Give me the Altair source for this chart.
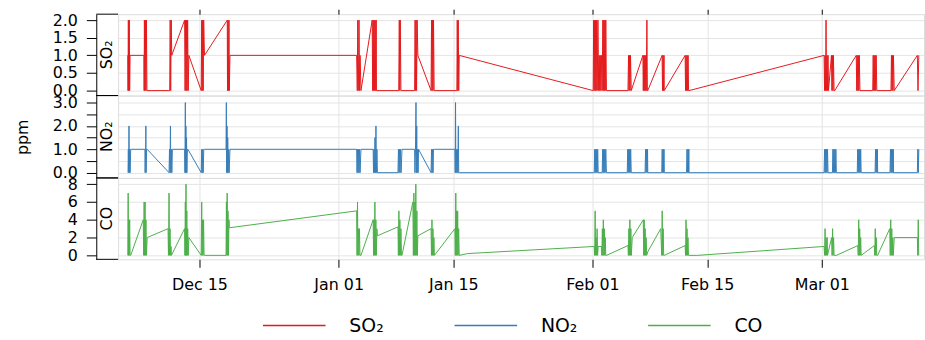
import altair as alt
import pandas as pd

# ---------------- data (days since 2014-12-01, ppm) ----------------
BASE = pd.Timestamp("2014-12-01")
names = ["SO₂", "NO₂", "CO"]
colors = ["#E41A1C", "#377EB8", "#4DAF4A"]
tick_dates = ["2014-12-15", "2015-01-01", "2015-01-15", "2015-02-01", "2015-02-15", "2015-03-01"]

so2 = [
    (5.24, 1), (5.27, 0), (5.31, 2), (5.35, 0), (5.39, 1.5), (5.43, 2), (5.47, 0), (5.52, 1),
    (7.21, 1), (7.24, 0), (7.27, 2), (7.33, 0), (7.39, 2), (7.45, 0), (7.52, 2), (7.58, 0),
    (10.36, 0), (10.42, 2), (10.48, 0), (10.55, 2), (10.61, 1),
    (12.18, 2), (12.24, 0), (12.30, 2), (12.36, 0), (12.42, 2), (12.48, 0), (12.55, 2), (12.62, 0), (12.70, 1),
    (14.21, 0), (14.27, 2), (14.33, 0), (14.39, 2), (14.45, 0), (14.51, 2), (14.61, 1),
    (17.39, 2), (17.42, 0), (17.48, 2), (17.54, 0), (17.60, 2), (17.64, 0), (17.72, 1),
    (33.19, 1), (33.27, 0), (33.33, 2), (33.39, 0), (33.45, 1), (33.48, 2), (33.55, 0), (33.61, 1), (33.72, 0),
    (35.09, 2), (35.15, 0), (35.21, 2), (35.27, 0), (35.33, 2), (35.39, 0), (35.45, 2), (35.52, 0), (35.58, 2), (35.61, 0),
    (38.33, 0), (38.40, 2), (38.46, 0), (38.52, 2), (38.60, 0),
    (40.27, 0), (40.33, 2), (40.39, 0), (40.45, 2), (40.51, 0), (40.58, 2), (40.67, 1),
    (42.28, 0), (42.34, 2), (42.40, 0), (42.46, 2), (42.52, 0), (42.58, 2), (42.66, 0),
    (45.43, 0), (45.48, 2), (45.54, 0), (45.60, 2), (45.66, 0), (45.72, 1),
    (62.08, 0), (62.14, 2), (62.20, 0), (62.26, 2), (62.32, 0), (62.38, 2), (62.44, 0), (62.50, 2), (62.57, 0),
    (62.66, 2), (62.75, 0), (62.82, 1), (62.88, 0), (62.95, 1), (63.02, 0), (63.10, 1), (63.18, 0),
    (63.26, 2), (63.32, 0), (63.38, 2), (63.44, 0), (63.50, 2), (63.56, 0), (63.62, 2), (63.70, 0),
    (66.33, 0), (66.40, 1), (66.46, 0), (66.52, 1), (66.58, 0), (66.64, 1), (66.73, 0),
    (68.15, 1), (68.20, 0), (68.26, 1), (68.32, 0), (68.38, 1), (68.44, 0), (68.50, 1), (68.56, 0), (68.64, 2), (68.70, 0), (68.75, 0),
    (70.50, 1), (70.55, 0), (70.61, 1), (70.67, 0), (70.73, 1), (70.76, 0),
    (73.31, 1), (73.36, 0), (73.42, 1), (73.48, 0), (73.55, 1), (73.61, 0), (73.67, 1), (73.73, 0), (73.79, 0),
    (90.28, 1), (90.34, 0), (90.40, 1), (90.46, 0), (90.52, 2), (90.58, 0), (90.64, 1), (90.70, 0), (90.76, 1), (90.82, 0),
    (91.18, 1), (91.24, 0), (91.30, 1), (91.36, 0), (91.42, 1), (91.50, 0), (91.58, 0),
    (94.21, 1), (94.27, 0), (94.33, 1), (94.40, 0), (94.46, 1), (94.52, 0), (94.58, 1), (94.66, 0),
    (96.22, 0), (96.28, 1), (96.34, 0), (96.40, 1), (96.46, 0), (96.52, 1), (96.58, 0), (96.64, 1), (96.72, 0),
    (98.45, 0), (98.51, 1), (98.57, 0), (98.63, 1), (98.69, 0), (98.75, 1), (98.85, 0),
    (101.67, 1), (101.75, 0), (101.85, 1),
]

no2 = [
    (5.27, 0), (5.31, 1), (5.35, 0), (5.39, 2), (5.43, 0), (5.47, 1), (5.52, 0), (5.60, 1),
    (7.33, 1), (7.36, 0), (7.42, 1), (7.45, 2), (7.48, 0), (7.54, 1), (7.61, 1),
    (10.28, 0), (10.34, 1), (10.40, 0), (10.45, 2), (10.50, 0), (10.56, 1), (10.62, 0), (10.69, 1),
    (12.18, 1), (12.22, 0), (12.27, 3), (12.30, 0), (12.34, 2), (12.38, 0), (12.42, 1.5), (12.46, 0), (12.52, 1), (12.58, 1),
    (14.21, 0), (14.27, 1), (14.33, 0), (14.39, 1), (14.45, 0), (14.52, 1), (14.61, 1),
    (17.24, 1), (17.28, 3), (17.32, 0), (17.36, 2), (17.40, 0), (17.45, 1.5), (17.50, 0), (17.56, 1), (17.62, 0), (17.72, 1),
    (33.19, 1), (33.24, 0), (33.30, 1), (33.36, 0), (33.42, 1), (33.48, 0), (33.55, 1), (33.61, 0), (33.72, 1),
    (35.21, 1), (35.25, 0), (35.31, 1), (35.37, 0), (35.43, 1.5), (35.49, 0), (35.55, 2), (35.61, 0), (35.67, 1), (35.73, 0),
    (38.24, 0), (38.30, 1), (38.36, 0), (38.42, 1), (38.48, 0), (38.55, 1), (38.62, 0), (38.73, 1),
    (40.27, 1), (40.31, 0), (40.38, 1), (40.44, 3), (40.48, 0), (40.53, 2), (40.58, 0), (40.64, 1), (40.70, 0), (40.75, 1),
    (42.28, 0), (42.34, 1), (42.40, 0), (42.46, 1), (42.52, 0), (42.58, 1), (42.69, 1),
    (45.19, 1), (45.23, 0), (45.27, 3), (45.31, 0), (45.37, 1), (45.43, 0), (45.49, 1), (45.55, 0), (45.61, 2), (45.66, 0), (45.72, 0),
    (62.21, 0), (62.27, 1), (62.33, 0), (62.39, 1), (62.45, 0), (62.51, 1), (62.57, 0), (62.63, 1), (62.69, 0),
    (63.18, 0), (63.24, 1), (63.30, 0), (63.36, 1), (63.42, 0), (63.48, 1), (63.54, 0), (63.62, 1), (63.70, 0),
    (66.24, 0), (66.30, 1), (66.36, 0), (66.42, 1), (66.48, 0), (66.54, 1), (66.60, 0), (66.66, 1), (66.73, 0),
    (68.42, 0), (68.48, 1), (68.54, 0), (68.60, 1), (68.66, 0), (68.72, 1), (68.75, 0),
    (70.45, 0), (70.51, 1), (70.57, 0), (70.63, 1), (70.69, 0), (70.73, 1), (70.76, 0),
    (73.48, 0), (73.54, 1), (73.60, 0), (73.66, 1), (73.72, 0), (73.76, 1), (73.79, 0),
    (90.28, 0), (90.34, 1), (90.40, 0), (90.46, 1), (90.52, 0), (90.58, 1), (90.64, 0), (90.70, 1), (90.76, 0),
    (91.30, 0), (91.36, 1), (91.42, 0), (91.48, 1), (91.54, 0), (91.60, 1), (91.66, 0), (91.72, 1), (91.78, 0),
    (94.33, 0), (94.39, 1), (94.45, 0), (94.51, 1), (94.57, 0), (94.63, 1), (94.69, 0), (94.75, 1), (94.81, 0),
    (96.51, 0), (96.57, 1), (96.63, 0), (96.69, 1), (96.75, 0), (96.79, 1), (96.82, 0),
    (98.33, 0), (98.39, 1), (98.45, 0), (98.51, 1), (98.57, 0), (98.63, 1), (98.69, 0), (98.73, 1), (98.76, 0),
    (101.67, 0), (101.73, 1), (101.79, 0), (101.85, 1),
]

co = [
    (5.24, 0), (5.29, 7), (5.33, 0), (5.37, 4), (5.42, 0), (5.47, 4), (5.52, 0), (5.60, 0),
    (7.13, 4), (7.18, 0), (7.24, 6), (7.29, 0), (7.35, 6), (7.40, 0), (7.46, 4), (7.52, 0), (7.61, 2),
    (10.16, 3), (10.21, 0), (10.28, 7), (10.34, 0), (10.40, 3), (10.46, 0), (10.52, 1), (10.57, 0),
    (12.18, 3), (12.22, 0), (12.27, 6), (12.31, 0), (12.35, 8), (12.40, 0), (12.45, 5), (12.50, 0), (12.56, 3), (12.62, 0), (12.70, 2),
    (14.21, 0), (14.27, 6), (14.32, 0), (14.38, 4), (14.44, 0), (14.50, 4), (14.56, 0), (14.61, 0),
    (17.24, 0), (17.29, 6), (17.33, 0), (17.38, 7), (17.43, 0), (17.48, 5), (17.54, 0), (17.60, 4), (17.64, 3.1),
    (33.19, 5.0), (33.24, 0), (33.30, 6), (33.35, 0), (33.41, 3), (33.47, 0), (33.53, 3), (33.60, 0), (33.72, 0),
    (35.21, 4), (35.26, 0), (35.31, 4), (35.36, 0), (35.42, 6), (35.48, 0), (35.54, 4), (35.60, 0), (35.66, 3), (35.73, 2.2),
    (38.24, 3.2), (38.29, 0), (38.35, 5), (38.41, 0), (38.47, 4), (38.53, 0), (38.60, 3), (38.67, 0), (38.73, 0),
    (40.06, 6), (40.12, 0), (40.18, 7), (40.24, 0), (40.30, 6), (40.36, 0), (40.42, 8), (40.48, 0), (40.55, 5), (40.61, 0), (40.67, 2.2),
    (42.28, 3), (42.33, 0), (42.39, 4), (42.45, 0), (42.51, 3), (42.57, 0), (42.63, 2), (42.69, 0),
    (45.19, 3), (45.24, 0), (45.30, 7), (45.35, 0), (45.41, 5), (45.47, 0), (45.53, 5), (45.59, 0), (45.65, 3), (45.72, 0),
    (46.73, 0.2),
    (62.21, 1.0), (62.26, 0), (62.32, 5), (62.38, 0), (62.44, 2), (62.50, 0), (62.56, 3), (62.62, 0), (62.69, 1),
    (63.09, 1), (63.14, 0), (63.20, 3), (63.26, 0), (63.32, 4), (63.38, 0), (63.44, 3), (63.50, 0), (63.56, 2), (63.62, 0), (63.70, 0),
    (66.33, 1.1), (66.38, 0), (66.44, 3), (66.50, 0), (66.56, 4), (66.62, 0), (66.68, 3), (66.74, 0), (66.85, 2),
    (68.20, 4), (68.25, 0), (68.31, 4), (68.37, 0), (68.43, 3), (68.49, 0), (68.55, 2), (68.61, 0), (68.75, 0.4),
    (70.33, 3), (70.45, 0), (70.51, 5), (70.57, 0), (70.63, 3), (70.69, 0), (70.76, 0),
    (73.31, 1.1), (73.36, 0), (73.42, 4), (73.48, 0), (73.54, 3), (73.60, 0), (73.66, 2), (73.72, 0), (73.79, 0),
    (74.81, 0), (90.28, 1.0),
    (90.34, 0), (90.40, 3), (90.46, 0), (90.52, 2), (90.58, 0), (90.66, 2), (90.70, 0),
    (91.20, 2), (91.26, 0), (91.32, 3), (91.38, 0), (91.44, 2), (91.50, 0), (91.78, 0),
    (94.40, 1.1), (94.45, 0), (94.51, 4), (94.57, 0), (94.63, 3), (94.69, 0), (94.75, 2), (94.81, 0),
    (96.42, 1.1), (96.47, 0), (96.53, 3), (96.59, 0), (96.65, 2), (96.71, 0), (96.82, 0),
    (98.30, 3), (98.36, 0), (98.42, 4), (98.48, 0), (98.55, 3), (98.61, 0), (98.67, 2), (98.73, 0), (98.85, 2),
    (101.67, 2), (101.72, 0), (101.78, 4), (101.84, 0),
]

# ---------------- layout / style ----------------
FONT = "DejaVu Sans"
GRID = "#e4e4e4"
PX_PER_DAY = 8.25
W = 812
START_DAY = 4.06
END_DAY = START_DAY + W / PX_PER_DAY


def dt(ts):
    return alt.DateTime(year=int(ts.year), month=int(ts.month), date=int(ts.day),
                        hours=int(ts.hour), minutes=int(ts.minute))


x_domain = [dt(BASE + pd.Timedelta(days=START_DAY)), dt(BASE + pd.Timedelta(days=END_DAY))]
tick_vals = [dt(pd.Timestamp(s)) for s in tick_dates]


def frame(points, name):
    df = pd.DataFrame(points, columns=["day", "value"])
    df["time"] = BASE + pd.to_timedelta(df["day"], unit="D")
    df["pollutant"] = name
    return df[["time", "value", "pollutant"]]


legend = alt.Legend(
    title=None, orient="none", legendX=145, legendY=281, direction="horizontal",
    symbolType="stroke", symbolSize=3969, symbolStrokeWidth=1.5,
    labelFont=FONT, labelFontSize=19, labelColor="#000", labelOffset=23,
    columnPadding=68,
)


def panel(points, name, height, ydom, yvals, position, label_format=None, label_expr=None, ytitle=None):
    df = frame(points, name)
    if position == "top":
        x_axis = alt.Axis(values=tick_vals, orient="top", labels=False, ticks=True, tickSize=5,
                          tickColor="#000", domain=False, grid=True, gridColor=GRID, title=None)
    elif position == "middle":
        x_axis = alt.Axis(values=tick_vals, orient="bottom", labels=False, ticks=False,
                          domain=False, grid=True, gridColor=GRID, title=None)
    else:
        x_axis = alt.Axis(values=tick_vals, orient="bottom", format="%b %d", labels=True,
                          ticks=True, tickSize=8, tickColor="#000", labelPadding=9,
                          labelFont=FONT, labelFontSize=16, labelColor="#000",
                          domain=False, grid=True, gridColor=GRID, title=None)
    y_kw = dict(values=yvals, offset=22, tickSize=10, tickColor="#000", labelPadding=9,
                labelFont=FONT, labelFontSize=16, labelColor="#000", labelOverlap=False,
                domain=True, domainColor="#000", grid=True, gridColor=GRID)
    if label_format:
        y_kw["format"] = label_format
    if label_expr:
        y_kw["labelExpr"] = label_expr
    if ytitle:
        y_kw.update(title=ytitle, titleFont=FONT, titleFontSize=16, titleFontWeight="normal",
                    titleColor="#000", titleX=-74, titleBaseline="middle", titleAngle=270)
    else:
        y_kw["title"] = None
    line = alt.Chart(df).mark_line(strokeWidth=1).encode(
        x=alt.X("time:T", scale=alt.Scale(domain=x_domain), axis=alt.Axis(**x_axis.to_dict())),
        y=alt.Y("value:Q", scale=alt.Scale(domain=ydom, nice=False, zero=False), axis=alt.Axis(**y_kw)),
        color=alt.Color("pollutant:N", scale=alt.Scale(domain=names, range=colors), legend=legend),
    )
    strip_text = alt.Chart(pd.DataFrame({"label": [name]})).mark_text(
        angle=270, font=FONT, fontSize=16, color="#000", align="center", baseline="middle"
    ).encode(x=alt.value(-11), y=alt.value(height / 2), text="label:N")
    one = pd.DataFrame({"k": [0]})
    rule_top = alt.Chart(one).mark_rule(color="#000", strokeWidth=1).encode(
        x=alt.value(-22), x2=alt.value(0), y=alt.value(0))
    rule_bot = alt.Chart(one).mark_rule(color="#000", strokeWidth=1).encode(
        x=alt.value(-22), x2=alt.value(0), y=alt.value(height))
    return alt.layer(line, strip_text, rule_top, rule_bot).properties(width=W, height=height)


p_so2 = panel(so2, names[0], 82, [-0.141, 2.169], [0, 0.5, 1, 1.5, 2], "top", label_format=".1f")
p_no2 = panel(no2, names[1], 83, [-0.225, 3.297], [0, 0.5, 1, 1.5, 2, 2.5, 3], "middle",
              label_expr="datum.value % 1 == 0 ? format(datum.value, '.1f') : ''", ytitle="ppm")
p_co = panel(co, names[2], 82, [-0.446, 8.70], [0, 2, 4, 6, 8], "bottom", label_format="d")

chart = (
    alt.vconcat(p_so2, p_no2, p_co, spacing=0, bounds="flush")
    .resolve_scale(color="shared")
    .properties(padding={"left": 14, "top": 7, "right": 0, "bottom": 5}, background="white")
    .configure_view(stroke="#000", strokeWidth=1)
    .configure(font=FONT)
)

chart.save("out.html", embed_options={"renderer": "svg", "actions": False})
